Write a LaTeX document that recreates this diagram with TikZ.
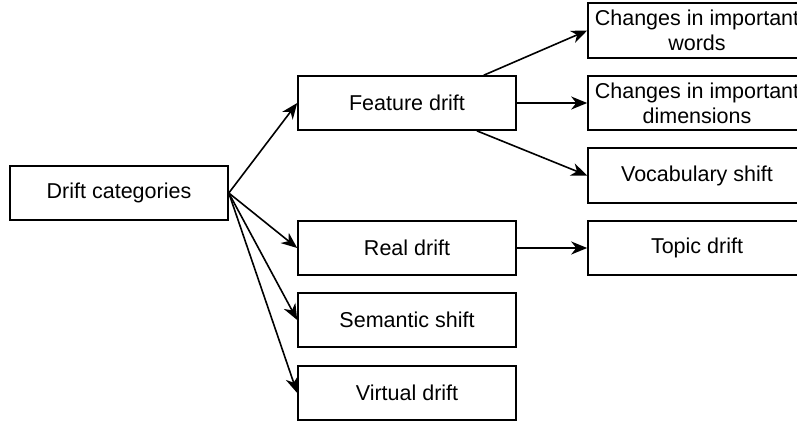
\documentclass[tikz,border=0pt]{standalone}
\usepackage{fontspec}
\setmainfont{Liberation Sans}
\usetikzlibrary{arrows.meta}
\begin{document}
\begin{tikzpicture}[x=1pt,y=-1pt,
  box/.style={draw=black, line width=1.6pt, minimum width=218pt, minimum height=54pt, inner sep=0pt, align=center, font=\fontsize{21.5}{25}\selectfont},
  conn/.style={line width=1.6pt, -{Stealth[length=16pt,width=13pt,inset=5pt]}}]
\clip (0,0) rectangle (797,421);
\fill[white] (0,0) rectangle (797,421);
\node[box] (dc) at (119,193) {Drift categories};
\node[box] (feat) at (407,103) {Feature drift};
\node[box] (real) at (407,248) {Real drift};
\node[box] (sem) at (407,320) {Semantic shift};
\node[box] (virt) at (407,393) {Virtual drift};
\node[box, minimum height=55pt] (words) at (697,30.5) {Changes in important\\words};
\node[box] (dims) at (697,103) {Changes in important\\dimensions};
\node[box, minimum height=55pt] (vocab) at (697,175.5) {Vocabulary shift};
\node[box] (topic) at (697,248) {Topic drift};
\draw[conn] (dc.east) -- (feat.west);
\draw[conn] (dc.east) -- (real.west);
\draw[conn] (dc.east) -- (sem.west);
\draw[conn] (dc.east) -- (virt.west);
\coordinate (ftop) at ([xshift=-33pt]feat.north east);
\coordinate (fbot) at ([xshift=-40pt]feat.south east);
\draw[conn] (ftop) -- (words.west);
\draw[conn] (feat.east) -- (dims.west);
\draw[conn] (fbot) -- (vocab.west);
\draw[conn] (real.east) -- (topic.west);
\end{tikzpicture}
\end{document}
